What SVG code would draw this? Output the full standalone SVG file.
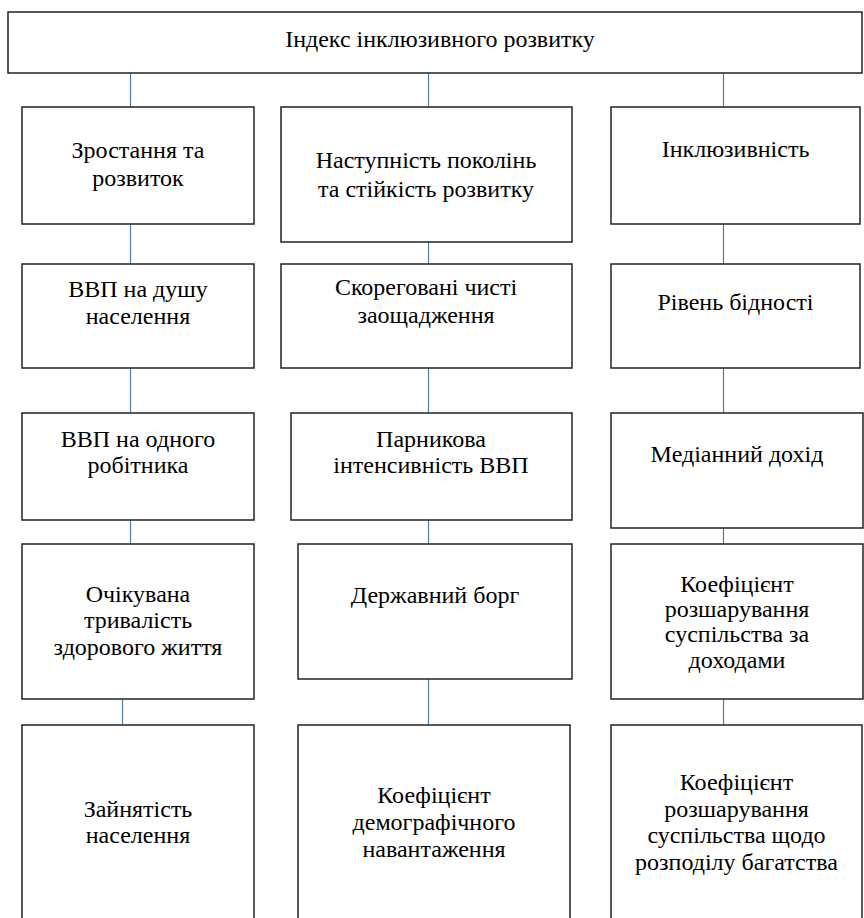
<svg xmlns="http://www.w3.org/2000/svg" width="864" height="918" viewBox="0 0 864 918">
<rect width="864" height="918" fill="#fff"/>
<g id="connectors" stroke="#4f7fa3" stroke-width="1.2" fill="none">
<line x1="130.5" y1="73" x2="130.5" y2="107"/>
<line x1="428.5" y1="73" x2="428.5" y2="107"/>
<line x1="723.5" y1="73" x2="723.5" y2="107"/>
<line x1="130.5" y1="224" x2="130.5" y2="264"/>
<line x1="428.5" y1="242" x2="428.5" y2="264"/>
<line x1="723.5" y1="224" x2="723.5" y2="264"/>
<line x1="130.5" y1="368" x2="130.5" y2="413"/>
<line x1="428.5" y1="368" x2="428.5" y2="413"/>
<line x1="723.5" y1="368" x2="723.5" y2="413"/>
<line x1="130.5" y1="520" x2="130.5" y2="544"/>
<line x1="428.5" y1="520" x2="428.5" y2="544"/>
<line x1="723.5" y1="528" x2="723.5" y2="544"/>
<line x1="122.5" y1="699" x2="122.5" y2="725"/>
<line x1="428.5" y1="679" x2="428.5" y2="725"/>
<line x1="723.5" y1="699" x2="723.5" y2="725"/>
</g>
<g id="nodes" fill="#fff" stroke="#222" stroke-width="1.5">
<rect id="r-root" x="8" y="12" width="854" height="61"/>
<rect id="r-growth" x="22" y="107" width="232" height="117"/>
<rect id="r-sustain" x="281" y="107" width="291" height="135"/>
<rect id="r-inclusion" x="611" y="107" width="249" height="117"/>
<rect id="r-gdp-capita" x="22" y="264" width="232" height="104"/>
<rect id="r-savings" x="281" y="264" width="291" height="104"/>
<rect id="r-poverty" x="611" y="264" width="249" height="104"/>
<rect id="r-gdp-worker" x="22" y="413" width="232" height="107"/>
<rect id="r-greenhouse" x="291" y="413" width="281" height="107"/>
<rect id="r-median" x="611" y="413" width="252" height="115"/>
<rect id="r-life" x="22" y="544" width="232" height="155"/>
<rect id="r-debt" x="298" y="544" width="274" height="135"/>
<rect id="r-income-gap" x="611" y="544" width="252" height="155"/>
<rect id="r-employment" x="22" y="725" width="232" height="210"/>
<rect id="r-dependency" x="298" y="725" width="272" height="210"/>
<rect id="r-wealth-gap" x="611" y="725" width="251" height="210"/>
</g>
<g id="labels">
<text text-anchor="middle" font-family="Liberation Serif" font-size="24" x="440" y="47">Індекс інклюзивного розвитку</text>
<text text-anchor="middle" font-family="Liberation Serif" font-size="24" x="138" y="158">Зростання та</text>
<text text-anchor="middle" font-family="Liberation Serif" font-size="24" x="138" y="186">розвиток</text>
<text text-anchor="middle" font-family="Liberation Serif" font-size="24" x="426" y="168">Наступність поколінь</text>
<text text-anchor="middle" font-family="Liberation Serif" font-size="24" x="426" y="197">та стійкість розвитку</text>
<text text-anchor="middle" font-family="Liberation Serif" font-size="24" x="735.5" y="157">Інклюзивність</text>
<text text-anchor="middle" font-family="Liberation Serif" font-size="24" x="138" y="297">ВВП на душу</text>
<text text-anchor="middle" font-family="Liberation Serif" font-size="24" x="138" y="324">населення</text>
<text text-anchor="middle" font-family="Liberation Serif" font-size="24" x="426" y="295">Скореговані чисті</text>
<text text-anchor="middle" font-family="Liberation Serif" font-size="24" x="426" y="323">заощадження</text>
<text text-anchor="middle" font-family="Liberation Serif" font-size="24" x="735.5" y="310">Рівень бідності</text>
<text text-anchor="middle" font-family="Liberation Serif" font-size="24" x="138" y="447">ВВП на одного</text>
<text text-anchor="middle" font-family="Liberation Serif" font-size="24" x="138" y="473">робітника</text>
<text text-anchor="middle" font-family="Liberation Serif" font-size="24" x="431" y="447">Парникова</text>
<text text-anchor="middle" font-family="Liberation Serif" font-size="24" x="431" y="473">інтенсивність ВВП</text>
<text text-anchor="middle" font-family="Liberation Serif" font-size="24" x="737" y="462">Медіанний дохід</text>
<text text-anchor="middle" font-family="Liberation Serif" font-size="24" x="138" y="602">Очікувана</text>
<text text-anchor="middle" font-family="Liberation Serif" font-size="24" x="138" y="628">тривалість</text>
<text text-anchor="middle" font-family="Liberation Serif" font-size="24" x="138" y="655">здорового життя</text>
<text text-anchor="middle" font-family="Liberation Serif" font-size="24" x="435" y="603">Державний борг</text>
<text text-anchor="middle" font-family="Liberation Serif" font-size="24" x="737" y="592">Коефіцієнт</text>
<text text-anchor="middle" font-family="Liberation Serif" font-size="24" x="737" y="617">розшарування</text>
<text text-anchor="middle" font-family="Liberation Serif" font-size="24" x="737" y="642">суспільства за</text>
<text text-anchor="middle" font-family="Liberation Serif" font-size="24" x="737" y="668">доходами</text>
<text text-anchor="middle" font-family="Liberation Serif" font-size="24" x="138" y="817">Зайнятість</text>
<text text-anchor="middle" font-family="Liberation Serif" font-size="24" x="138" y="843">населення</text>
<text text-anchor="middle" font-family="Liberation Serif" font-size="24" x="434" y="803">Коефіцієнт</text>
<text text-anchor="middle" font-family="Liberation Serif" font-size="24" x="434" y="830">демографічного</text>
<text text-anchor="middle" font-family="Liberation Serif" font-size="24" x="434" y="857">навантаження</text>
<text text-anchor="middle" font-family="Liberation Serif" font-size="24" x="736.5" y="790">Коефіцієнт</text>
<text text-anchor="middle" font-family="Liberation Serif" font-size="24" x="736.5" y="817">розшарування</text>
<text text-anchor="middle" font-family="Liberation Serif" font-size="24" x="736.5" y="843">суспільства щодо</text>
<text text-anchor="middle" font-family="Liberation Serif" font-size="24" x="736.5" y="870">розподілу багатства</text>
</g>
</svg>
